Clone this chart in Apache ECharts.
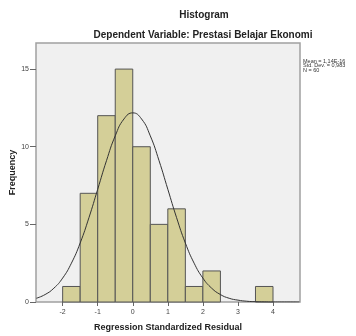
<!DOCTYPE html>
<html><head><meta charset="utf-8">
<script src="https://cdn.jsdelivr.net/npm/echarts@6/dist/echarts.min.js"></script>
<style>html,body{margin:0;padding:0;background:#fff}#c{width:356px;height:336px}</style>
</head><body><div id="c"></div>
<script>
const binStart = [-2, -1.5, -1, -0.5, 0, 0.5, 1, 1.5, 2, 3.5];
const binEnd   = [-1.5, -1, -0.5, 0, 0.5, 1, 1.5, 2, 2.5, 4];
const counts   = [1, 7, 12, 15, 10, 5, 6, 1, 2, 1];
const curveX = [-2.75,-2.5,-2.25,-2,-1.75,-1.5,-1.25,-1,-0.75,-0.5,-0.25,0,0.25,0.5,0.75,1,1.25,1.5,1.75,2,2.25,2.5,2.75,3,3.25,3.5,3.75,4,4.25,4.5,4.75];
const curveY = [0.24,0.48,0.89,1.54,2.5,3.8,5.43,7.26,9.1,10.7,11.79,12.18,11.79,10.7,9.1,7.26,5.43,3.8,2.5,1.54,0.89,0.48,0.24,0.12,0.05,0.02,0.01,0.0,0.0,0.0,0.0];
const yTicks = [0, 5, 10, 15];
const xTicks = [-2, -1, 0, 1, 2, 3, 4];
const statLines = ['Mean = 1,14E-16', 'Std. Dev. = 0,983', 'N = 60'];

const chart = echarts.init(document.getElementById('c'), null, {renderer: 'canvas'});
const font = 'Liberation Sans, Arial, sans-serif';
chart.setOption({
  animation: false,
  title: [
    {text: 'Histogram', left: 199, top: 5, textAlign: 'center',
     textStyle: {fontSize: 10, fontWeight: 'bold', color: '#222', fontFamily: font}},
    {text: 'Dependent Variable: Prestasi Belajar Ekonomi', left: 198, top: 25, textAlign: 'center',
     textStyle: {fontSize: 10, fontWeight: 'bold', color: '#222', fontFamily: font}}
  ],
  grid: {left: 36, top: 43, width: 264, height: 259, show: true, containLabel: false,
         outerBoundsMode: 'none',
         backgroundColor: '#f0f0f0', borderColor: '#a0a0a0', borderWidth: 1.5},
  xAxis: {
    type: 'value', min: -2.76, max: 4.77,
    name: 'Regression Standardized Residual', nameLocation: 'middle', nameGap: 21, nameMoveOverlap: false,
    nameTextStyle: {fontSize: 9, fontWeight: 'bold', color: '#222', fontFamily: font},
    axisLine: {show: false, onZero: false},
    axisTick: {show: true, length: 4, customValues: xTicks, lineStyle: {color: '#666'}},
    splitLine: {show: false},
    axisLabel: {fontSize: 7, color: '#444', margin: 7, fontFamily: font, customValues: xTicks}
  },
  yAxis: {
    type: 'value', min: 0, max: 16.68,
    name: 'Frequency', nameLocation: 'middle', nameGap: 19, nameMoveOverlap: false,
    nameTextStyle: {fontSize: 9, fontWeight: 'bold', color: '#222', fontFamily: font},
    axisLine: {show: false, onZero: false},
    axisTick: {show: true, length: 6, customValues: yTicks, lineStyle: {color: '#666'}},
    splitLine: {show: false},
    axisLabel: {fontSize: 7, color: '#444', margin: 7, fontFamily: font, customValues: yTicks}
  },
  series: [
    {
      type: 'custom',
      data: binStart.map((s, i) => [s, binEnd[i], counts[i]]),
      encode: {x: [0, 1], y: 2},
      renderItem: (params, api) => {
        const p0 = api.coord([api.value(0), api.value(2)]);
        const p1 = api.coord([api.value(1), 0]);
        return {type: 'rect', shape: {x: p0[0], y: p0[1], width: p1[0] - p0[0], height: p1[1] - p0[1]},
                style: {fill: '#d4cf98', stroke: '#555', lineWidth: 1}};
      },
      z: 2
    },
    {
      type: 'line', smooth: true, symbol: 'none',
      data: curveX.map((x, i) => [x, curveY[i]]),
      lineStyle: {color: '#333', width: 1}, z: 3
    }
  ],
  graphic: [
    {type: 'text', left: 303, top: 58,
     style: {text: statLines.join('\n'), fontSize: 5.5, lineHeight: 4.6, fill: '#333', fontFamily: font}}
  ]
});
</script></body></html>
